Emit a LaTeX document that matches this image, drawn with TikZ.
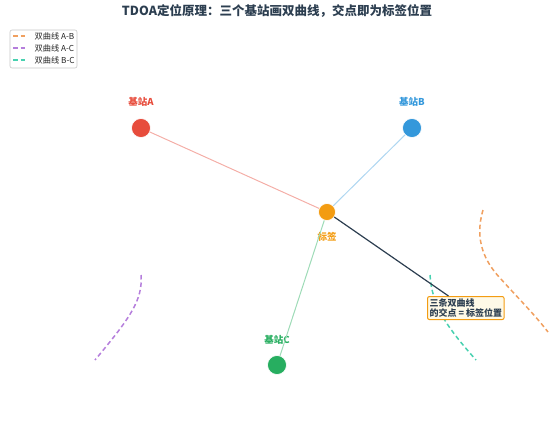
\documentclass[tikz,border=0pt]{standalone}
\usepackage{fontspec}
\setmainfont{Noto Sans CJK SC}
\usetikzlibrary{calc}
\definecolor{cA}{HTML}{E74C3C}
\definecolor{cB}{HTML}{3498DB}
\definecolor{cC}{HTML}{27AE60}
\definecolor{cT}{HTML}{F39C12}
\definecolor{dark}{HTML}{2C3E50}
\definecolor{hAB}{HTML}{F0A060}
\definecolor{hAC}{HTML}{B57EDC}
\definecolor{hBC}{HTML}{48D1B0}
\definecolor{cream}{HTML}{FEF9E7}
\tikzset{
  station/.style={circle,fill=#1,draw=white,line width=0.6pt,minimum size=19pt,inner sep=0pt},
  slabel/.style={text=#1,font=\bfseries\fontsize{9.5}{11}\selectfont,inner sep=0pt},
  hyper/.style={draw=#1,line width=1.5pt,dash pattern=on 4.5pt off 3pt},
  link/.style={draw=#1,line width=1pt},
  legtext/.style={font=\fontsize{8.2}{9}\selectfont,text=black!85,anchor=west,inner sep=0pt},
}
\begin{document}
\begin{tikzpicture}[x=1pt,y=-1pt]
\useasboundingbox (0,0) rectangle (554,439);
% title
\node[font=\bfseries\fontsize{12.5}{14}\selectfont,text=dark] (title) at (277,11) {TDOA定位原理：三个基站画双曲线，交点即为标签位置};
% legend
\draw[rounded corners=2pt,draw=black!22,line width=0.6pt,fill=white] (10,30) rectangle (77,68);
\draw[hyper=hAB] (13,36) -- (27,36);
\draw[hyper=hAC] (13,48) -- (27,48);
\draw[hyper=hBC] (13,60) -- (27,60);
\node[legtext] (l1) at (34.5,36) {双曲线 A-B};
\node[legtext] (l2) at (34.5,48) {双曲线 A-C};
\node[legtext] (l3) at (34.5,60) {双曲线 B-C};
% hyperbolas
\draw[hyper=hAB] (483,210) .. controls (474,240) and (485,262) .. (500,278) .. controls (518,298) and (535,315) .. (548,332);
\draw[hyper=hAC] (141,275) .. controls (143,300) and (130,318) .. (95,360);
\draw[hyper=hBC] (430,275) .. controls (432,305) and (445,325) .. (476,360);
% nodes
\node[station=cA] (A) at (141,128) {};
\node[station=cB] (B) at (412,128) {};
\node[station=cC] (C) at (277,365) {};
\node[station=cT,minimum size=17pt] (T) at (327,212) {};
\node[slabel=cA] (LA) at (141,102) {基站A};
\node[slabel=cB] (LB) at (412,102) {基站B};
\node[slabel=cC] (LC) at (277,340) {基站C};
\node[slabel=cT] (LT) at (327,237) {标签};
% links
\draw[link=cA!45] (A) -- (T);
\draw[link=cB!40] (B) -- (T);
\draw[link=cC!45] (C) -- (T);
% annotation
\node[draw=cT,fill=cream,line width=1pt,rounded corners=2pt,align=left,
      font=\bfseries\fontsize{9}{10.5}\selectfont,text=dark,inner sep=2pt,anchor=north west]
      (N) at (427,296) {三条双曲线\\的交点 = 标签位置};
\coordinate (Ne) at (448.5,296);
\draw[dark,line width=1.2pt] (T) -- (Ne);
\end{tikzpicture}
\end{document}
